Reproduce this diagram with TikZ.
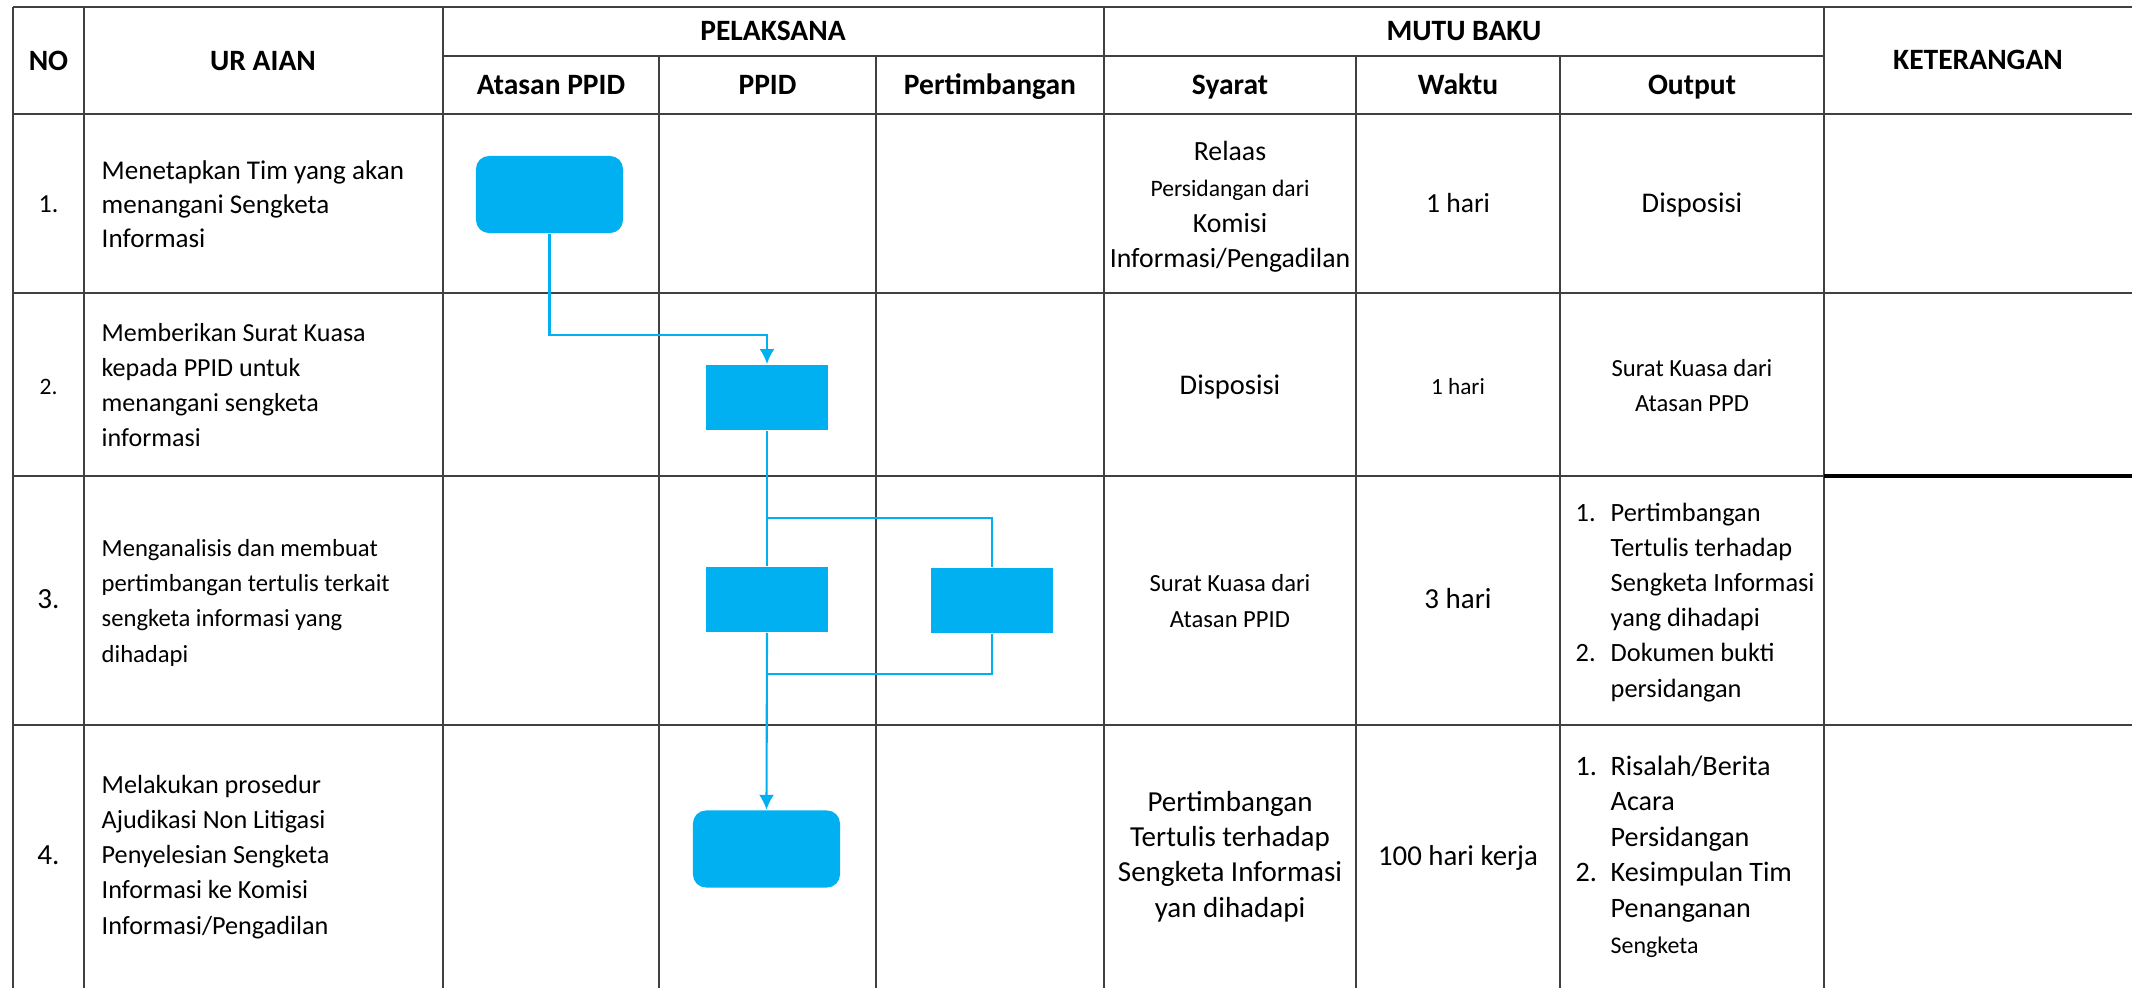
\documentclass[tikz,border=0pt]{standalone}
\usepackage{fontspec}
\setmainfont{Carlito}
\usetikzlibrary{arrows.meta}

\definecolor{biru}{HTML}{00B0F0}
\definecolor{abu}{HTML}{404040}
\newcommand{\ukuran}[2]{\fontsize{#1}{#2}\selectfont}

\begin{document}
\begin{tikzpicture}[x=0.01cm,y=-0.01cm,
  tabel/.style={draw=abu,line width=0.65pt},
  judul/.style={font=\ukuran{8.4}{10}\bfseries,anchor=base,inner sep=0pt},
  teks/.style={inner sep=0pt,anchor=base},
  kiri/.style={teks,align=left,anchor=base west},
  tengah/.style={teks,align=center},
  proses/.style={rectangle,fill=biru,minimum width=1.22cm,minimum height=0.655cm,inner sep=0pt},
  terminal/.style={proses,rounded corners=0.13cm,minimum width=1.47cm,minimum height=0.77cm},
  alur/.style={draw=biru,line width=0.6pt},
  panah/.style={-{Latex[length=1.5mm,width=1.5mm]}}]
\useasboundingbox (0,0) rectangle (2132,988);

% garis tabel
\draw[tabel] (13,7) -- (2132,7);
\draw[tabel] (443,56) -- (1824,56);
\foreach \y in {114,293,476,725} \draw[tabel] (13,\y) -- (2132,\y);
\foreach \x in {13,84,443,1104,1824} \draw[tabel] (\x,7) -- (\x,988);
\foreach \x in {659,876,1356,1560} \draw[tabel] (\x,56) -- (\x,988);
\draw[line width=1pt] (1824,476) -- (2132,476);

% kepala tabel
\node[judul] (no) at (48.5,71) {NO};
\node[judul] (uraian) at (263,71) {UR AIAN};
\node[judul] (pelaksana) at (773,41) {PELAKSANA};
\node[judul] (mutu) at (1464,41) {MUTU BAKU};
\node[judul] (ket) at (1978,70) {KETERANGAN};
\node[judul] (atasan) at (551,95) {Atasan PPID};
\node[judul] (ppid) at (767.5,95) {PPID};
\node[judul] (pertimbangan) at (990,95) {Pertimbangan};
\node[judul] (syarat) at (1230,95) {Syarat};
\node[judul] (waktu) at (1458,95) {Waktu};
\node[judul] (output) at (1692,95) {Output};

% baris 1 (titik acuan = garis dasar baris terakhir)
\node[teks,font=\ukuran{7.4}{9.7}] (no1) at (48.5,213) {1.};
\node[kiri,font=\ukuran{7.7}{9.7}] (ur1) at (101,248) {Menetapkan Tim yang akan\\menangani Sengketa\\Informasi};
\node[tengah,font=\ukuran{7.9}{10.2}] (sy1) at (1230,268) {Relaas\\{\ukuran{6.7}{10.2}Persidangan dari}\\Komisi\\Informasi/Pengadilan};
\node[teks,font=\ukuran{7.85}{10}] (wk1) at (1458,213) {1 hari};
\node[teks,font=\ukuran{8.1}{10}] (out1) at (1692,213) {Disposisi};

% baris 2
\node[teks,font=\ukuran{6.7}{10}] (no2) at (48.5,395) {2.};
\node[kiri,font=\ukuran{7.4}{9.96}] (ur2) at (101,447) {Memberikan Surat Kuasa\\kepada PPID untuk\\menangani sengketa\\informasi};
\node[teks,font=\ukuran{8.1}{10}] (sy2) at (1230,395) {Disposisi};
\node[teks,font=\ukuran{6.6}{10}] (wk2) at (1458,395) {1 hari};
\node[tengah,font=\ukuran{7}{9.96}] (out2) at (1692,412) {Surat Kuasa dari\\Atasan PPD};

% baris 3
\node[teks,font=\ukuran{8.3}{10}] (no3) at (48.5,608) {3.};
\node[kiri,font=\ukuran{7}{9.96}] (ur3) at (101,662) {Menganalisis dan membuat\\pertimbangan tertulis terkait\\sengketa informasi yang\\dihadapi};
\node[tengah,font=\ukuran{7}{9.96}] (sy3) at (1230,627) {Surat Kuasa dari\\Atasan PPID};
\node[teks,font=\ukuran{8.25}{10}] (wk3) at (1458,608) {3 hari};
\node[kiri,font=\ukuran{7.5}{9.96}] (out3) at (1575,697) {\makebox[0.35cm][l]{1.}Pertimbangan\\\hspace*{0.35cm}Tertulis terhadap\\\hspace*{0.35cm}Sengketa Informasi\\\hspace*{0.35cm}yang dihadapi\\\makebox[0.35cm][l]{2.}Dokumen bukti\\\hspace*{0.35cm}persidangan};

% baris 4
\node[teks,font=\ukuran{8.3}{10}] (no4) at (48.5,864) {4.};
\node[kiri,font=\ukuran{7.45}{9.96}] (ur4) at (101,934) {Melakukan prosedur\\Ajudikasi Non Litigasi\\Penyelesian Sengketa\\Informasi ke Komisi\\Informasi/Pengadilan};
\node[tengah,font=\ukuran{8.25}{9.96}] (sy4) at (1230,917) {Pertimbangan\\Tertulis terhadap\\Sengketa Informasi\\yan dihadapi};
\node[teks,font=\ukuran{8.2}{10}] (wk4) at (1458,865) {100 hari kerja};
\node[kiri,font=\ukuran{8}{10.1}] (out4) at (1575,953) {\makebox[0.35cm][l]{1.}Risalah/Berita\\\hspace*{0.35cm}Acara\\\hspace*{0.35cm}Persidangan\\\makebox[0.35cm][l]{2.}Kesimpulan Tim\\\hspace*{0.35cm}Penanganan\\\hspace*{0.35cm}{\ukuran{6.8}{10.1}Sengketa}};

% bagan alir
\node[terminal] (tim) at (549.5,194.5) {};
\node[proses] (kuasa) at (767,397.5) {};
\node[proses] (analisis) at (767,599.5) {};
\node[proses] (timbang) at (992,600.5) {};
\node[terminal] (ajudikasi) at (766.5,849) {};
\coordinate (cabang) at (767,518);
\coordinate (gabung) at (767,674);

\draw[alur,panah] (tim.south) -- ++(0,101) -| (kuasa.north);
\draw[alur] (kuasa.south) -- (analisis.north);
\draw[alur] (cabang) -| (timbang.north);
\draw[alur] (timbang.south) |- (gabung);
\draw[alur,panah] (analisis.south) -- (ajudikasi.north);
\end{tikzpicture}
\end{document}
